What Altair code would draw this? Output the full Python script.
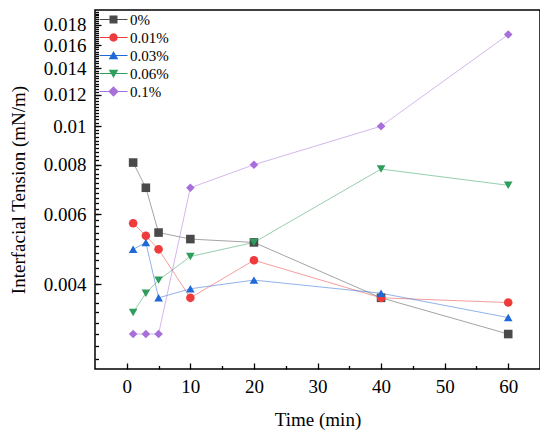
import altair as alt
import pandas as pd

times = [1, 3, 5, 10, 20, 40, 60]
series = ["0%", "0.01%", "0.03%", "0.06%", "0.1%"]
v_0 = [0.0081, 0.0070, 0.0054, 0.0052, 0.0051, 0.0037, 0.0030]
v_001 = [0.0057, 0.0053, 0.0049, 0.0037, 0.0046, 0.0037, 0.0036]
v_003 = [0.0049, 0.0051, 0.0037, 0.0039, 0.0041, 0.0038, 0.0033]
v_006 = [0.0034, 0.0038, 0.0041, 0.0047, 0.0051, 0.0078, 0.0071]
v_01 = [0.0030, 0.0030, 0.0030, 0.0070, 0.0080, 0.0100, 0.0170]

colors = ["#4a4a4a", "#ee3b3b", "#1f68d8", "#2e9e5c", "#a86fdc"]
shapes = ["square", "circle", "triangle-up", "triangle-down", "diamond"]
bar = "M-3.5,-0.12H3.5V0.12H-3.5Z"
legend_shapes = [
    "M-1,-1H1V1H-1Z" + bar,
    "M-1.05,0A1.05,1.05,0,1,1,1.05,0A1.05,1.05,0,1,1,-1.05,0Z" + bar,
    "M0,-1.15L1.2,0.95H-1.2Z" + bar,
    "M0,1.15L-1.2,-0.95H1.2Z" + bar,
    "M0,-1.3L1.3,0L0,1.3L-1.3,0Z" + bar,
]

x_major = [0, 10, 20, 30, 40, 50, 60]
x_minor = [5, 15, 25, 35, 45, 55]
y_major = [0.004, 0.006, 0.008, 0.010, 0.012, 0.014, 0.016, 0.018]
y_minor = [round(0.0026 + 0.0002 * i, 4) for i in range(85)]

rows = []
for name, vals in zip(series, [v_0, v_001, v_003, v_006, v_01]):
    for t, v in zip(times, vals):
        rows.append({"time": t, "tension": v, "series": name})
df = pd.DataFrame(rows)

FONT = "Liberation Serif"
xscale = alt.Scale(domain=[-5, 65], nice=False, zero=False)
yscale = alt.Scale(type="log", domain=[0.00245, 0.0196], nice=False)
cscale = alt.Scale(domain=series, range=colors)

base = alt.Chart(df)

lines = base.mark_line(strokeWidth=1, opacity=0.5).encode(
    x=alt.X("time:Q", scale=xscale, axis=alt.Axis(
        orient="bottom", values=x_major, offset=-6, tickSize=6, domain=False,
        grid=False, labelPadding=8, title="Time (min)", titlePadding=14,
        titleFont=FONT, titleFontSize=19, titleFontWeight="normal")),
    y=alt.Y("tension:Q", scale=yscale, axis=alt.Axis(
        orient="left", values=y_major, format=".3~f", offset=-6, tickSize=6,
        domain=False, grid=False, labelPadding=9,
        title="Interfacial Tension (mN/m)", titlePadding=15,
        titleFont=FONT, titleFontSize=19, titleFontWeight="normal")),
    color=alt.Color("series:N", scale=cscale, legend=None),
    detail="series:N",
)

points = base.mark_point(filled=True, size=74, opacity=1).encode(
    x=alt.X("time:Q", scale=xscale, axis=alt.Axis(
        orient="bottom", values=x_minor, offset=-3.5, tickSize=3.5,
        domain=False, grid=False, labels=False, title=None)),
    y=alt.Y("tension:Q", scale=yscale, axis=alt.Axis(
        orient="left", values=y_minor, offset=-3.5, tickSize=3.5,
        domain=False, grid=False, labels=False, title=None)),
    color=alt.Color("series:N", scale=cscale, legend=None),
    shape=alt.Shape("series:N", scale=alt.Scale(domain=series, range=shapes),
                    legend=None),
)

leg = alt.Legend(orient="none", legendX=11, legendY=2, title=None,
                 labelFont=FONT, labelFontSize=15, labelColor="black",
                 symbolSize=64, symbolStrokeWidth=0, labelOffset=9,
                 rowPadding=2, padding=0, symbolOpacity=1)

legend_layer = base.mark_point(filled=True, size=64, opacity=0).encode(
    x=alt.X("time:Q", scale=xscale, axis=None),
    y=alt.Y("tension:Q", scale=yscale, axis=None),
    color=alt.Color("series:N", scale=cscale, legend=leg),
    shape=alt.Shape("series:N",
                    scale=alt.Scale(domain=series, range=legend_shapes),
                    legend=leg),
)

chart = alt.layer(lines, points, legend_layer).resolve_scale(
    color="independent", shape="independent"
).resolve_axis(
    x="independent", y="independent"
).properties(
    width=445, height=359, autosize="none",
    padding={"left": 87, "top": 2, "right": 0, "bottom": 61},
).configure_view(
    stroke="black", strokeWidth=1.5
).configure_axis(
    labelFont=FONT, labelFontSize=19, labelColor="black",
    titleFont=FONT, titleFontSize=19, titleFontWeight="normal",
    titleColor="black", tickColor="black", tickWidth=1.3,
)

chart.save("out.html", embed_options={"renderer": "svg", "actions": False})
